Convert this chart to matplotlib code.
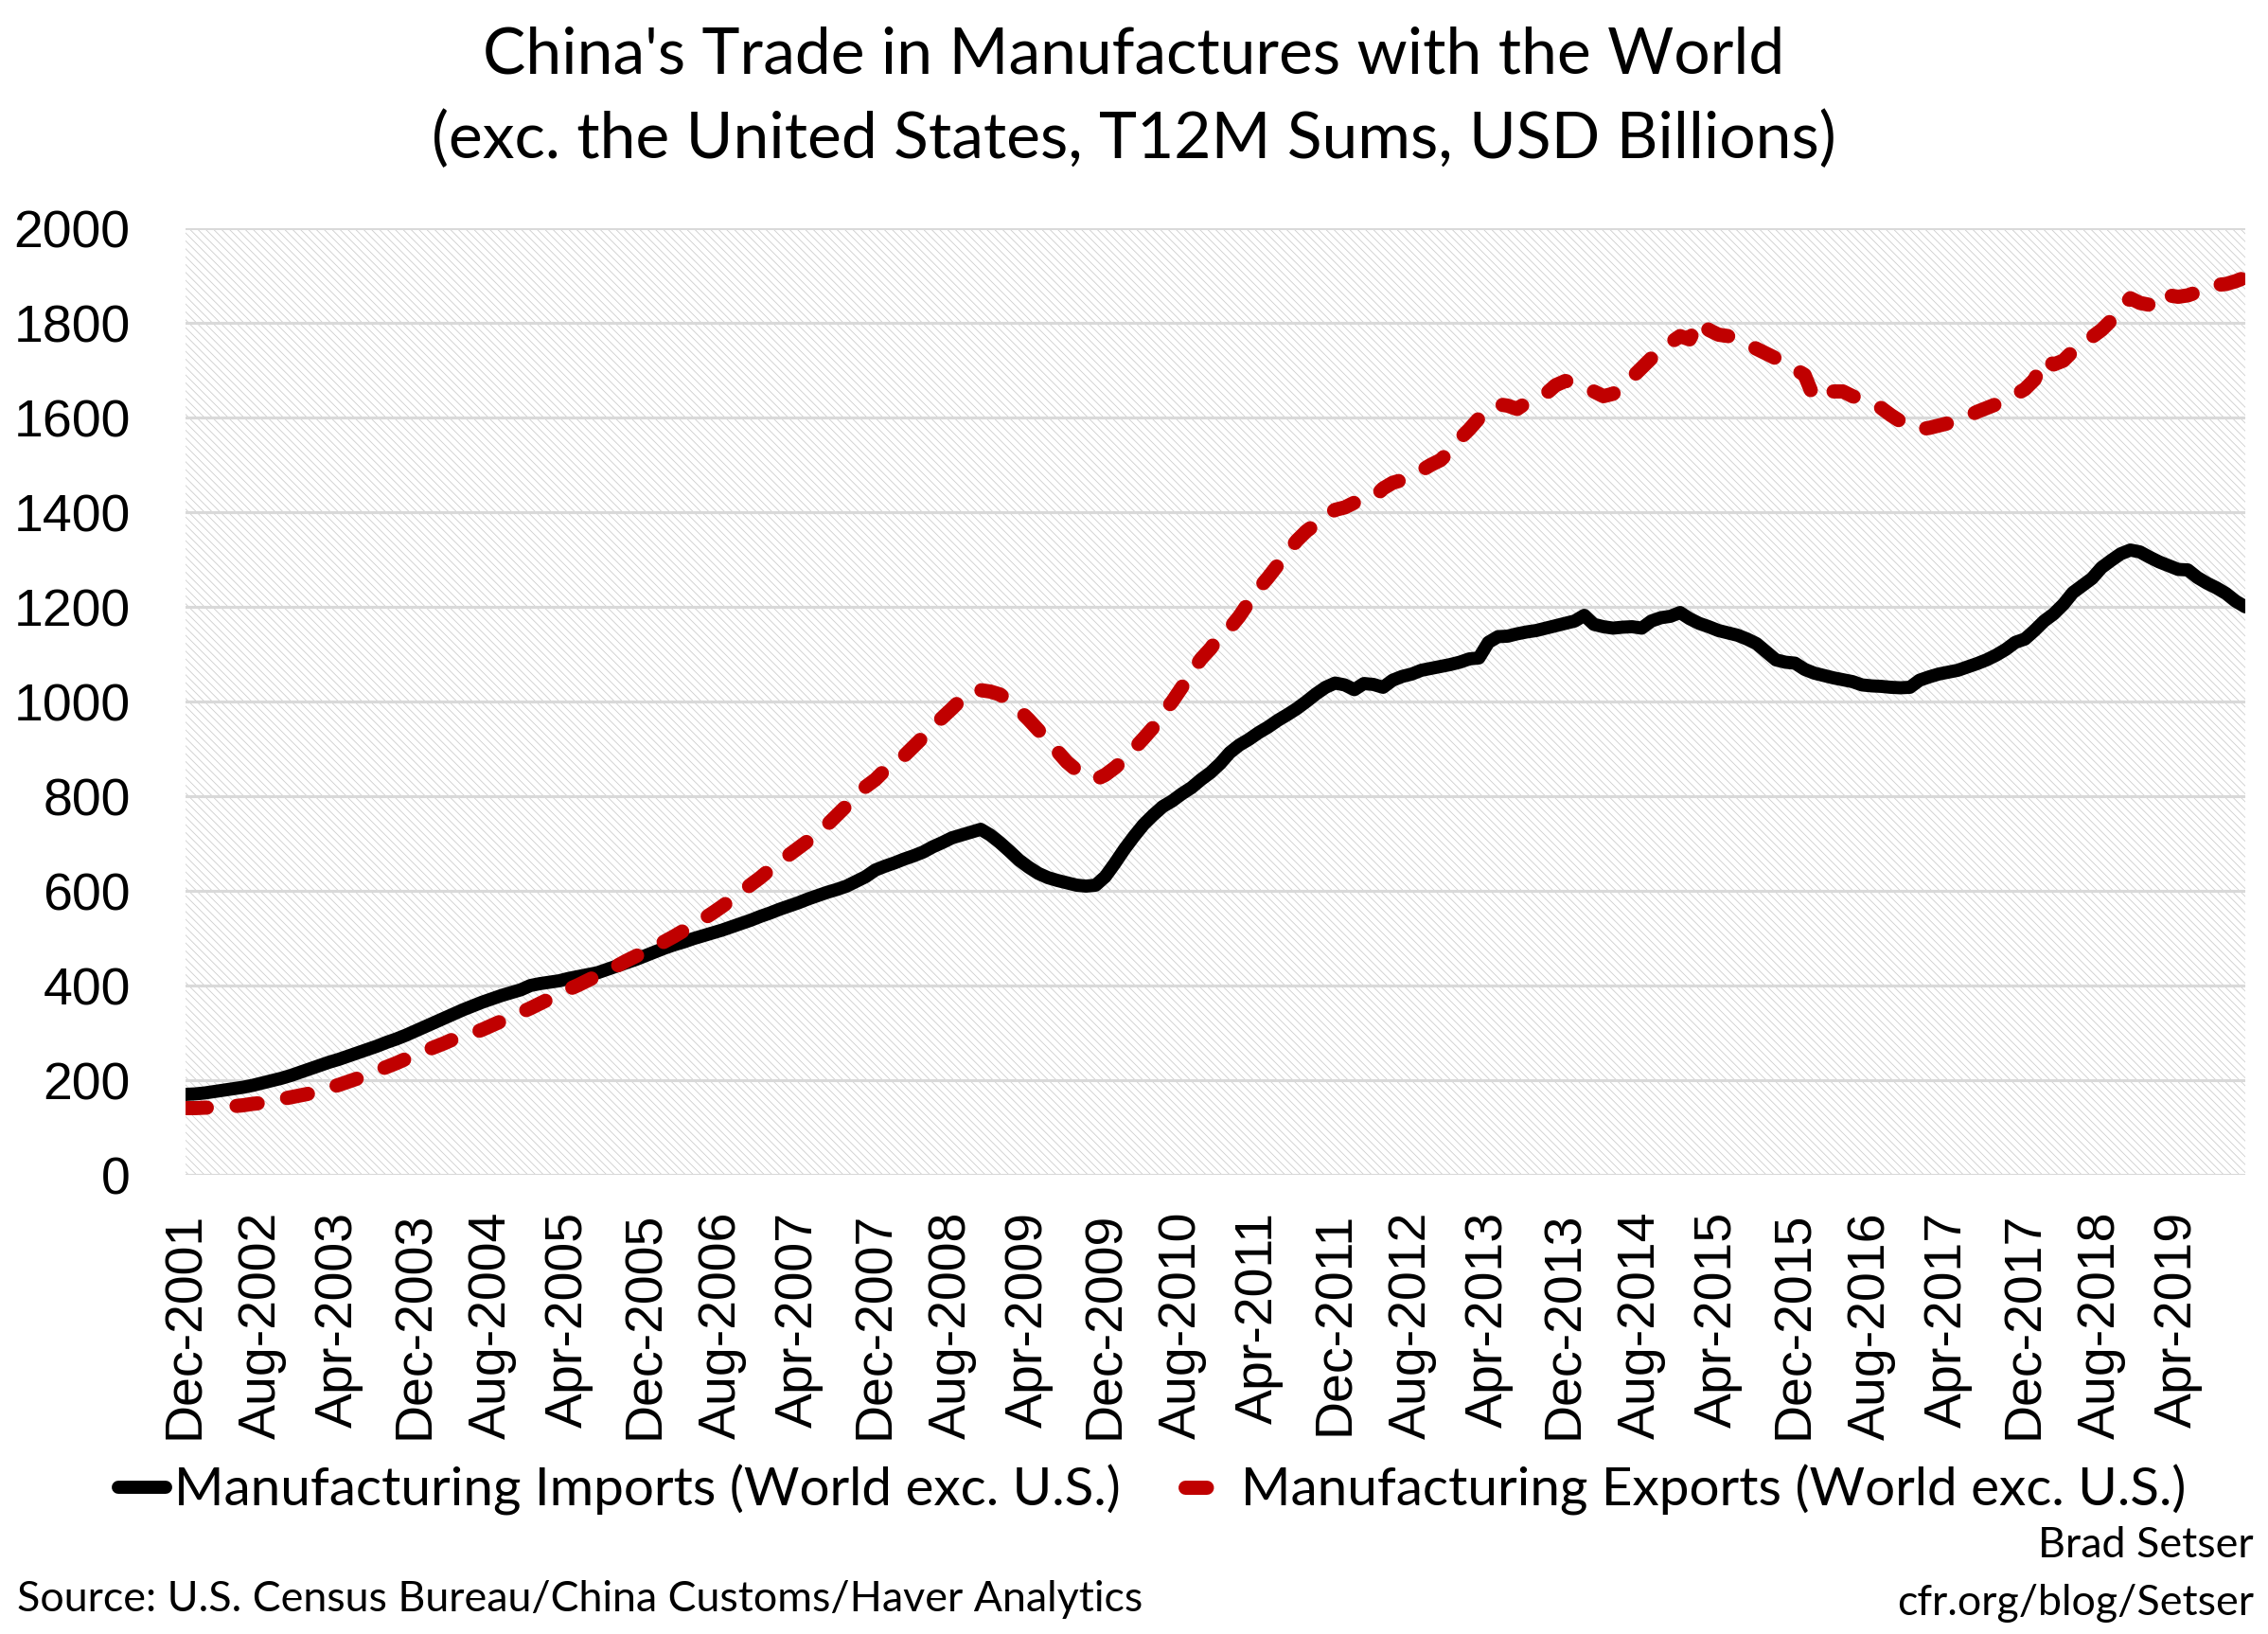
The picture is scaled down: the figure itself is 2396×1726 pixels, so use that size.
import matplotlib
matplotlib.use('Agg')
import matplotlib.pyplot as plt
from matplotlib.patches import Rectangle
from matplotlib.lines import Line2D
import numpy as np
import pandas as pd

# data: T12M sums, USD billions, monthly Dec-2001 .. Nov-2019
imports = [
    170, 171, 173, 176, 179, 182, 185, 189, 194, 199, 204, 210,
    217, 224, 231, 238, 244, 251, 258, 265, 272, 280, 287, 295,
    304, 313, 322, 331, 340, 349, 357, 365, 372, 379, 385, 391,
    400, 404, 407, 410, 415, 419, 423, 427, 434, 441, 448, 455,
    463, 471, 479, 486, 492, 499, 505, 511, 517, 524, 531, 538,
    546, 553, 561, 568, 575, 583, 590, 597, 603, 610, 620, 630,
    644, 652, 659, 667, 674, 682, 693, 702, 712, 718, 724, 730,
    718, 702, 684, 665, 650, 637, 628, 622, 617, 612, 610, 612,
    630, 658, 688, 715, 740, 760, 778, 790, 805, 818, 835, 850,
    869, 892, 908, 920, 934, 946, 960, 972, 985, 1000, 1016, 1030,
    1039, 1035, 1025, 1038, 1036, 1030, 1045, 1053, 1058, 1066, 1070, 1074,
    1078, 1083, 1090, 1092, 1125, 1137, 1138, 1143, 1147, 1150, 1155, 1160,
    1165, 1170, 1182, 1163, 1158, 1155, 1157, 1158, 1155, 1170, 1177, 1180,
    1188, 1175, 1165, 1158, 1150, 1145, 1140, 1132, 1122, 1105, 1088, 1083,
    1081, 1068, 1060, 1055, 1050, 1046, 1042, 1035, 1033, 1032, 1030, 1029,
    1030, 1045, 1052, 1058, 1062, 1066, 1073, 1080, 1088, 1098, 1110, 1125,
    1132, 1150, 1170, 1185, 1205, 1230, 1245, 1260, 1283, 1298, 1312, 1320,
    1316, 1305, 1295, 1287, 1279, 1278, 1262, 1250, 1240, 1228, 1212, 1200,
]
exports = [
    141, 141, 142, 142, 143, 145, 147, 150, 152, 156, 160, 164,
    168, 172, 178, 184, 190, 197, 204, 212, 220, 228, 236, 245,
    253, 262, 270, 278, 287, 295, 299, 307, 316, 325, 334, 343,
    352, 362, 372, 382, 392, 401, 411, 421, 431, 441, 452, 462,
    472, 482, 493, 504, 516, 528, 540, 553, 567, 582, 597, 613,
    628, 645, 660, 676, 691, 706, 722, 740, 760, 780, 800, 820,
    835, 855, 866, 885, 905, 925, 948, 966, 985, 1005, 1022, 1024,
    1021, 1015, 1000, 982, 962, 940, 918, 895, 872, 855, 845, 835,
    845, 860, 878, 900, 922, 945, 975, 1000, 1030, 1062, 1090, 1112,
    1140, 1155, 1180, 1210, 1238, 1262, 1288, 1315, 1340, 1360, 1375, 1392,
    1405, 1410, 1420, 1425, 1430, 1450, 1462, 1468, 1478, 1488, 1500, 1510,
    1530, 1555, 1575, 1598, 1615, 1628, 1625, 1618, 1632, 1640, 1650, 1668,
    1677, 1675, 1665, 1655, 1645, 1650, 1665, 1685, 1705, 1725, 1742, 1758,
    1772, 1765, 1805, 1785, 1775, 1772, 1765, 1755, 1745, 1735, 1725, 1712,
    1702, 1690, 1640, 1648, 1655, 1655, 1645, 1638, 1632, 1620, 1605, 1592,
    1580, 1575, 1578, 1583, 1588, 1595, 1602, 1612, 1620, 1628, 1638, 1648,
    1660, 1680, 1725, 1712, 1720, 1740, 1755, 1770, 1785, 1805, 1830, 1852,
    1842, 1838, 1832, 1858, 1855, 1858, 1865, 1876, 1880, 1882, 1888, 1896,
]
months = pd.date_range('2001-12-01', periods=len(imports), freq='MS')
tick_step = 8
yticks = list(range(0, 2001, 200))

title1 = "China's Trade in Manufactures with the World"
title2 = "(exc. the United States, T12M Sums, USD Billions)"
lab_imp = 'Manufacturing Imports (World exc. U.S.)'
lab_exp = 'Manufacturing Exports (World exc. U.S.)'
source = 'Source: U.S. Census Bureau/China Customs/Haver Analytics'

RED = '#c00000'
GRID = '#d9d9d9'
TXT = 'Lato'
NUM = 'Liberation Sans'
LW_IMP = 10.0
LW_EXP = 10.8
DASH = (1.5, 2.1)

plt.rcParams['hatch.linewidth'] = 0.6
W, H = 2396, 1726
fig = plt.figure(figsize=(W / 100, H / 100), dpi=100, facecolor='white')
renderer = fig.canvas.get_renderer()


def fit(s, target_px, family, size0=40):
    t = fig.text(0, 0, s, fontsize=size0, family=family)
    w = t.get_window_extent(renderer).width
    t.remove()
    return size0 * target_px / w


ax = fig.add_axes([196 / W, 1 - 1241 / H, (2372 - 196) / W, 1000 / H])
ax.set_facecolor('white')
ax.add_patch(Rectangle((0, 0), 1, 1, transform=ax.transAxes, facecolor='white',
                       edgecolor='#cdcdcd', hatch='\\\\\\\\', linewidth=0, zorder=0))
for s in ax.spines.values():
    s.set_visible(False)
for yv in yticks:
    ax.axhline(yv, color=GRID, lw=2.2, zorder=1)

x_imp = np.arange(len(imports))
x_exp = np.arange(len(exports))
ax.plot(x_imp, imports, color='black', lw=LW_IMP, solid_capstyle='round',
        solid_joinstyle='round', zorder=3)
ax.plot(x_exp, exports, color=RED, lw=LW_EXP, dashes=DASH,
        dash_capstyle='round', dash_joinstyle='round', zorder=3)

ax.set_xlim(0, len(imports) - 1)
ax.set_ylim(0, 2000)
ax.set_yticks(yticks)
ax.set_yticklabels([str(v) for v in yticks], fontsize=40, family=NUM)
tick_pos = np.arange(0, len(months), tick_step)
ax.set_xticks(tick_pos)
ax.set_xticklabels([months[i].strftime('%b-%Y') for i in tick_pos],
                   rotation=90, fontsize=40, family=NUM)
ax.tick_params(axis='y', length=0, pad=42)
ax.tick_params(axis='x', length=0, pad=28)

fs_t = fit(title1, 1372, TXT)
fig.text(0.5, 1 - 58 / H, title1, ha='center', va='center', fontsize=fs_t, family=TXT)
fig.text(0.5, 1 - 148 / H, title2, ha='center', va='center', fontsize=fs_t, family=TXT)

fs_l = fit(lab_imp, 1000, TXT)
handles = [Line2D([], [], color='black', lw=LW_IMP, solid_capstyle='round'),
           Line2D([], [], color=RED, lw=LW_EXP, dashes=DASH, dash_capstyle='round')]
fig.legend(handles, [lab_imp, lab_exp], loc='center', bbox_to_anchor=(1217 / W, 1 - 1574 / H),
           ncol=2, frameon=False, prop={'family': TXT, 'size': fs_l},
           handlelength=0.9, handletextpad=0.15, columnspacing=1.2, borderpad=0)

fs_s = fit(source, 1190, TXT)
fig.text(18 / W, 1 - 1689 / H, source, ha='left', va='center', fontsize=fs_s, family=TXT)
fig.text(2381 / W, 1 - 1632 / H, 'Brad Setser', ha='right', va='center', fontsize=fs_s, family=TXT)
fig.text(2381 / W, 1 - 1693 / H, 'cfr.org/blog/Setser', ha='right', va='center', fontsize=fs_s, family=TXT)

fig.savefig('out.png', dpi=100, facecolor='white')
